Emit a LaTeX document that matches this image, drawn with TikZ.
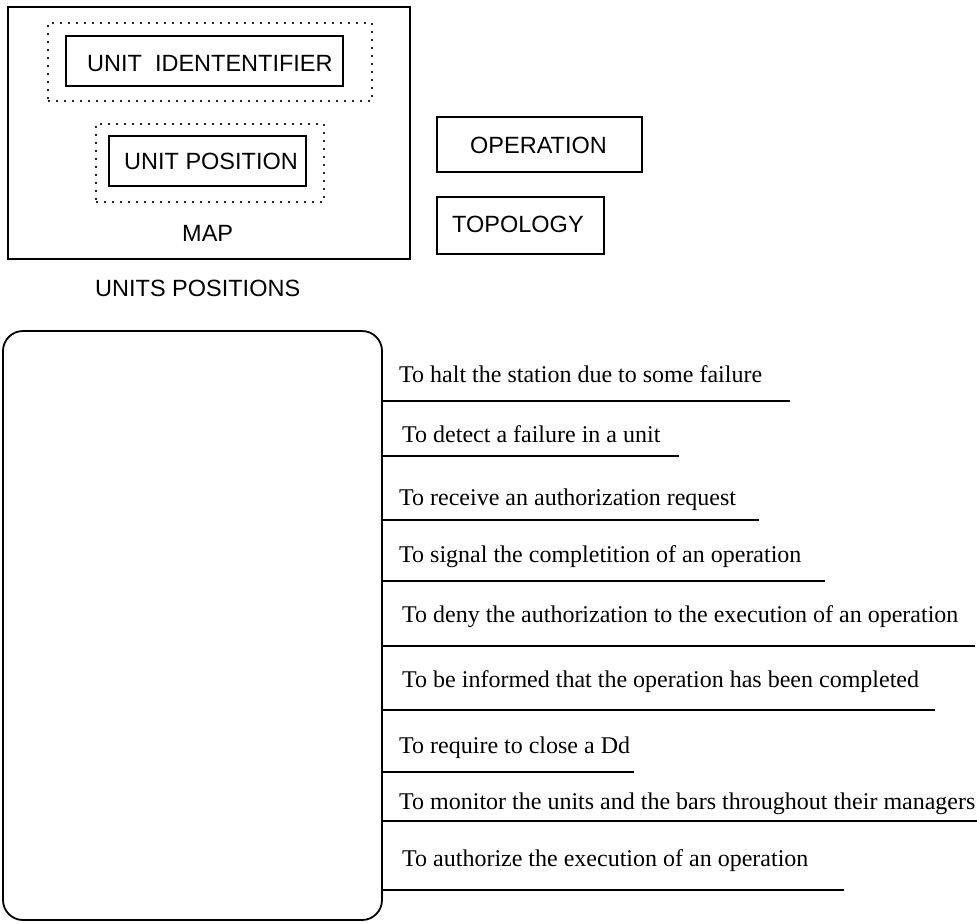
\documentclass[tikz,border=0pt]{standalone}
\usepackage{fontspec}
\setmainfont{Liberation Serif}
\newfontfamily\arialf{Liberation Sans}
\begin{document}
\begin{tikzpicture}[x=1pt,y=-1pt,
  box/.style={draw, line width=1.8pt, inner sep=0pt},
  dotbox/.style={draw=black!85, line width=1.1pt, dash pattern=on 1.6pt off 6.4pt, inner sep=0pt},
  lbl/.style={font=\arialf\fontsize{23.5}{28}\selectfont, inner sep=0pt, anchor=base west},
  itm/.style={font=\fontsize{24}{28}\selectfont, inner sep=0pt, anchor=base west},
  uline/.style={line width=1.8pt}]
\useasboundingbox (0,0) rectangle (977,922);
% map group
\node[box, minimum width=402pt, minimum height=252pt] (map) at (209,133) {};
\node[dotbox, minimum width=324pt, minimum height=78pt] (dot1) at (210,62) {};
\node[box, minimum width=277pt, minimum height=50pt] (uidbox) at (204.5,61) {};
\node[dotbox, minimum width=228pt, minimum height=78pt] (dot2) at (210,163) {};
\node[box, minimum width=197pt, minimum height=50pt] (uposbox) at (207.5,161) {};
\node[lbl] (uid) at (87,71) {UNIT\ \ IDENTENTIFIER};
\node[lbl] (upos) at (124,169) {UNIT POSITION};
\node[lbl] (maplbl) at (182,241) {MAP};
\node[lbl] (unitspos) at (95,296) {UNITS POSITIONS};
% operation / topology
\node[box, minimum width=205pt, minimum height=55pt] (opbox) at (539.5,144.5) {};
\node[lbl] (op) at (470,153) {OPERATION};
\node[box, minimum width=167pt, minimum height=57pt] (topobox) at (520.5,225.5) {};
\node[lbl] (topo) at (452,232) {TOPOLOGY};
% big rounded box
\node[box, rounded corners=20pt, minimum width=379pt, minimum height=589pt] (big) at (192.5,625.5) {};
% items
\node[itm] (i1) at (399,382) {To halt the station due to some failure};
\node[itm] (i2) at (402,442) {To detect a failure in a unit};
\node[itm] (i3) at (399,505) {To receive an authorization request};
\node[itm] (i4) at (399,562) {To signal the completition of an operation};
\node[itm] (i5) at (402,622) {To deny the authorization to the execution of an operation};
\node[itm] (i6) at (402,687) {To be informed that the operation has been completed};
\node[itm] (i7) at (399,753) {To require to close a Dd};
\node[itm] (i8) at (399,809) {To monitor the units and the bars throughout their managers};
\node[itm] (i9) at (402,866) {To authorize the execution of an operation};
\draw[uline] (382,401) -- (790,401);
\draw[uline] (382,456) -- (679,456);
\draw[uline] (382,520) -- (759,520);
\draw[uline] (382,581) -- (825,581);
\draw[uline] (382,646) -- (975,646);
\draw[uline] (382,710) -- (935,710);
\draw[uline] (382,772) -- (634,772);
\draw[uline] (382,821) -- (977,821);
\draw[uline] (382,890) -- (844,890);
\end{tikzpicture}
\end{document}
